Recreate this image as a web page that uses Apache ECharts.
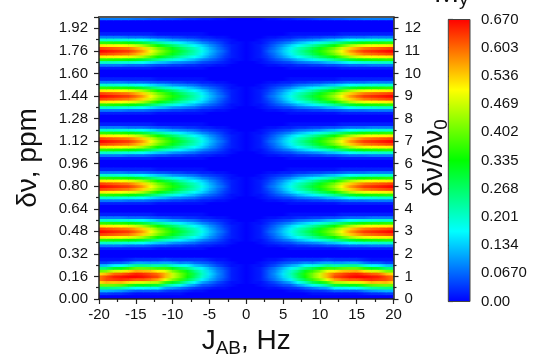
<!DOCTYPE html>
<html><head><meta charset="utf-8">
<script src="https://cdn.jsdelivr.net/npm/echarts@6/dist/echarts.min.js"></script>
<style>html,body{margin:0;padding:0;background:#fff}#c{width:537px;height:357px}</style>
</head><body><div id="c"></div>
<script>
const FONT = 'Liberation Sans, Arial, sans-serif';
// x columns (J_AB, Hz)
const jAB = [-20,-19,-18,-17,-16,-15,-14,-13,-12,-11,-10,-9,-8,-7,-6,-5,-4,-3,-2,-1,0,1,2,3,4,5,6,7,8,9,10,11,12,13,14,15,16,17,18,19,20];
// tick labels
const jTickLabels = ['-20','-15','-10','-5','0','5','10','15','20'];
const ppmTickLabels = ['0.00','0.16','0.32','0.48','0.64','0.80','0.96','1.12','1.28','1.44','1.60','1.76','1.92'];
const ratioTickLabels = ['0','1','2','3','4','5','6','7','8','9','10','11','12'];
const myTickLabels = ['0.00','0.0670','0.134','0.201','0.268','0.335','0.402','0.469','0.536','0.603','0.670'];
const myMax = 0.67;
const palette = ['#0000ff','#00ffff','#00ff00','#ffff00','#ff0000'];
// band centres (ppm) and row offsets (ppm) of each band's rows
const bandCentres = [0.16, 0.48, 0.80, 1.12, 1.44, 1.76];
const rowOffsets = [-0.12,-0.10,-0.08,-0.06,-0.04,-0.02,0,0.02,0.04,0.06,0.08,0.10,0.12];
// M_y values, rows = rowOffsets, columns = jAB
const band1 = [
[.04,.04,.03,.03,.02,.01,.01,.01,.01,.01,.01,.01,0,0,0,0,0,0,0,0,0,0,0,0,0,0,0,0,0,.01,.01,.01,.01,.01,.01,.01,.02,.03,.03,.04,.04],
[.12,.12,.11,.10,.08,.06,.06,.06,.06,.04,.03,.03,.02,.01,.01,0,0,0,0,0,0,0,0,0,0,0,.01,.01,.02,.03,.03,.04,.06,.06,.06,.06,.08,.10,.11,.12,.12],
[.25,.25,.24,.23,.20,.17,.17,.16,.16,.11,.10,.08,.06,.04,.03,.02,.01,.01,0,0,0,0,0,.01,.01,.02,.03,.04,.06,.08,.10,.11,.16,.16,.17,.17,.20,.23,.24,.25,.25],
[.40,.41,.40,.39,.36,.32,.32,.31,.30,.24,.20,.18,.13,.10,.06,.05,.03,.02,.01,0,0,0,.01,.02,.03,.05,.06,.10,.13,.18,.20,.24,.30,.31,.32,.32,.36,.39,.40,.41,.40],
[.52,.55,.54,.55,.52,.48,.48,.46,.45,.37,.32,.28,.21,.17,.11,.08,.05,.03,.01,.01,0,.01,.01,.03,.05,.08,.11,.17,.21,.28,.32,.37,.45,.46,.48,.48,.52,.55,.54,.55,.52],
[.59,.62,.63,.64,.63,.61,.61,.59,.56,.49,.42,.37,.29,.23,.16,.12,.08,.05,.02,.01,0,.01,.02,.05,.08,.12,.16,.23,.29,.37,.42,.49,.56,.59,.61,.61,.63,.64,.63,.62,.59],
[.59,.62,.65,.66,.67,.67,.66,.64,.62,.55,.47,.41,.34,.27,.20,.14,.09,.06,.02,.01,0,.01,.02,.06,.09,.14,.20,.27,.34,.41,.47,.55,.62,.64,.66,.67,.67,.66,.65,.62,.59],
[.52,.55,.60,.61,.63,.65,.64,.62,.60,.55,.47,.41,.35,.28,.21,.15,.10,.06,.02,.01,0,.01,.02,.06,.10,.15,.21,.28,.35,.41,.47,.55,.60,.62,.64,.65,.63,.61,.60,.55,.52],
[.40,.42,.47,.48,.52,.56,.55,.54,.51,.49,.42,.37,.32,.25,.20,.14,.09,.06,.02,.01,0,.01,.02,.06,.09,.14,.20,.25,.32,.37,.42,.49,.51,.54,.55,.56,.52,.48,.47,.42,.40],
[.25,.26,.31,.32,.36,.40,.40,.39,.37,.37,.32,.28,.25,.20,.16,.12,.08,.05,.02,.01,0,.01,.02,.05,.08,.12,.16,.20,.25,.28,.32,.37,.37,.39,.40,.40,.36,.32,.31,.26,.25],
[.12,.13,.16,.17,.20,.24,.24,.23,.22,.24,.20,.18,.17,.13,.11,.08,.05,.03,.01,.01,0,.01,.01,.03,.05,.08,.11,.13,.17,.18,.20,.24,.22,.23,.24,.24,.20,.17,.16,.13,.12],
[.04,.04,.06,.06,.08,.11,.11,.10,.10,.11,.10,.08,.09,.07,.06,.05,.03,.02,.01,0,0,0,.01,.02,.03,.05,.06,.07,.09,.08,.10,.11,.10,.10,.11,.11,.08,.06,.06,.04,.04],
[.01,.01,.01,.01,.02,.03,.03,.03,.03,.04,.03,.03,.03,.03,.03,.02,.01,.01,0,0,0,0,0,.01,.01,.02,.03,.03,.03,.03,.03,.04,.03,.03,.03,.03,.02,.01,.01,.01,.01]
];
const band2 = [
[.02,.02,.02,.02,.02,.02,.02,.02,.01,.01,.01,.01,.01,.01,.01,0,0,0,0,0,0,0,0,0,0,0,.01,.01,.01,.01,.01,.01,.01,.02,.02,.02,.02,.02,.02,.02,.02],
[.08,.08,.08,.08,.07,.07,.07,.06,.05,.05,.04,.04,.03,.03,.02,.02,.01,.01,0,0,0,0,0,.01,.01,.02,.02,.03,.03,.04,.04,.05,.05,.06,.07,.07,.07,.08,.08,.08,.08],
[.20,.20,.20,.19,.19,.18,.17,.15,.13,.12,.10,.09,.08,.07,.05,.04,.03,.02,.01,0,0,0,.01,.02,.03,.04,.05,.07,.08,.09,.10,.12,.13,.15,.17,.18,.19,.19,.20,.20,.20],
[.36,.36,.35,.35,.34,.32,.30,.27,.24,.21,.19,.16,.14,.12,.09,.07,.05,.03,.01,.01,0,.01,.01,.03,.05,.07,.09,.12,.14,.16,.19,.21,.24,.27,.30,.32,.34,.35,.35,.36,.36],
[.52,.51,.51,.50,.49,.47,.44,.39,.34,.30,.27,.23,.20,.17,.14,.10,.07,.04,.02,.01,0,.01,.02,.04,.07,.10,.14,.17,.20,.23,.27,.30,.34,.39,.44,.47,.49,.50,.51,.51,.52],
[.63,.62,.61,.60,.59,.56,.53,.47,.41,.37,.32,.28,.24,.21,.16,.12,.08,.05,.02,.01,0,.01,.02,.05,.08,.12,.16,.21,.24,.28,.32,.37,.41,.47,.53,.56,.59,.60,.61,.62,.63],
[.67,.66,.65,.64,.63,.60,.56,.50,.44,.39,.35,.30,.26,.22,.18,.13,.09,.06,.02,.01,0,.01,.02,.06,.09,.13,.18,.22,.26,.30,.35,.39,.44,.50,.56,.60,.63,.64,.65,.66,.67],
[.63,.62,.61,.60,.59,.56,.53,.47,.41,.37,.32,.28,.24,.21,.16,.12,.08,.05,.02,.01,0,.01,.02,.05,.08,.12,.16,.21,.24,.28,.32,.37,.41,.47,.53,.56,.59,.60,.61,.62,.63],
[.52,.51,.51,.50,.49,.47,.44,.39,.34,.30,.27,.23,.20,.17,.14,.10,.07,.04,.02,.01,0,.01,.02,.04,.07,.10,.14,.17,.20,.23,.27,.30,.34,.39,.44,.47,.49,.50,.51,.51,.52],
[.36,.36,.35,.35,.34,.32,.30,.27,.24,.21,.19,.16,.14,.12,.09,.07,.05,.03,.01,.01,0,.01,.01,.03,.05,.07,.09,.12,.14,.16,.19,.21,.24,.27,.30,.32,.34,.35,.35,.36,.36],
[.20,.20,.20,.19,.19,.18,.17,.15,.13,.12,.10,.09,.08,.07,.05,.04,.03,.02,.01,0,0,0,.01,.02,.03,.04,.05,.07,.08,.09,.10,.12,.13,.15,.17,.18,.19,.19,.20,.20,.20],
[.08,.08,.08,.08,.07,.07,.07,.06,.05,.05,.04,.04,.03,.03,.02,.02,.01,.01,0,0,0,0,0,.01,.01,.02,.02,.03,.03,.04,.04,.05,.05,.06,.07,.07,.07,.08,.08,.08,.08],
[.02,.02,.02,.02,.02,.02,.02,.02,.01,.01,.01,.01,.01,.01,.01,0,0,0,0,0,0,0,0,0,0,0,.01,.01,.01,.01,.01,.01,.01,.02,.02,.02,.02,.02,.02,.02,.02]
];
const band3 = [
[.02,.02,.02,.02,.02,.02,.02,.02,.01,.01,.01,.01,.01,.01,.01,0,0,0,0,0,0,0,0,0,0,0,.01,.01,.01,.01,.01,.01,.01,.02,.02,.02,.02,.02,.02,.02,.02],
[.08,.08,.08,.08,.07,.07,.07,.06,.05,.05,.04,.04,.03,.03,.02,.02,.01,.01,0,0,0,0,0,.01,.01,.02,.02,.03,.03,.04,.04,.05,.05,.06,.07,.07,.07,.08,.08,.08,.08],
[.20,.20,.20,.19,.19,.18,.17,.15,.13,.12,.10,.09,.08,.07,.05,.04,.03,.02,.01,0,0,0,.01,.02,.03,.04,.05,.07,.08,.09,.10,.12,.13,.15,.17,.18,.19,.19,.20,.20,.20],
[.36,.36,.35,.35,.34,.32,.30,.27,.24,.21,.19,.16,.14,.12,.09,.07,.05,.03,.01,.01,0,.01,.01,.03,.05,.07,.09,.12,.14,.16,.19,.21,.24,.27,.30,.32,.34,.35,.35,.36,.36],
[.52,.51,.51,.50,.49,.47,.44,.39,.34,.30,.27,.23,.20,.17,.14,.10,.07,.04,.02,.01,0,.01,.02,.04,.07,.10,.14,.17,.20,.23,.27,.30,.34,.39,.44,.47,.49,.50,.51,.51,.52],
[.63,.62,.61,.60,.59,.56,.53,.47,.41,.37,.32,.28,.24,.21,.16,.12,.08,.05,.02,.01,0,.01,.02,.05,.08,.12,.16,.21,.24,.28,.32,.37,.41,.47,.53,.56,.59,.60,.61,.62,.63],
[.67,.66,.65,.64,.63,.60,.56,.50,.44,.39,.35,.30,.26,.22,.18,.13,.09,.06,.02,.01,0,.01,.02,.06,.09,.13,.18,.22,.26,.30,.35,.39,.44,.50,.56,.60,.63,.64,.65,.66,.67],
[.63,.62,.61,.60,.59,.56,.53,.47,.41,.37,.32,.28,.24,.21,.16,.12,.08,.05,.02,.01,0,.01,.02,.05,.08,.12,.16,.21,.24,.28,.32,.37,.41,.47,.53,.56,.59,.60,.61,.62,.63],
[.52,.51,.51,.50,.49,.47,.44,.39,.34,.30,.27,.23,.20,.17,.14,.10,.07,.04,.02,.01,0,.01,.02,.04,.07,.10,.14,.17,.20,.23,.27,.30,.34,.39,.44,.47,.49,.50,.51,.51,.52],
[.36,.36,.35,.35,.34,.32,.30,.27,.24,.21,.19,.16,.14,.12,.09,.07,.05,.03,.01,.01,0,.01,.01,.03,.05,.07,.09,.12,.14,.16,.19,.21,.24,.27,.30,.32,.34,.35,.35,.36,.36],
[.20,.20,.20,.19,.19,.18,.17,.15,.13,.12,.10,.09,.08,.07,.05,.04,.03,.02,.01,0,0,0,.01,.02,.03,.04,.05,.07,.08,.09,.10,.12,.13,.15,.17,.18,.19,.19,.20,.20,.20],
[.08,.08,.08,.08,.07,.07,.07,.06,.05,.05,.04,.04,.03,.03,.02,.02,.01,.01,0,0,0,0,0,.01,.01,.02,.02,.03,.03,.04,.04,.05,.05,.06,.07,.07,.07,.08,.08,.08,.08],
[.02,.02,.02,.02,.02,.02,.02,.02,.01,.01,.01,.01,.01,.01,.01,0,0,0,0,0,0,0,0,0,0,0,.01,.01,.01,.01,.01,.01,.01,.02,.02,.02,.02,.02,.02,.02,.02]
];
const band4 = [
[.02,.02,.02,.02,.02,.02,.02,.02,.01,.01,.01,.01,.01,.01,.01,0,0,0,0,0,0,0,0,0,0,0,.01,.01,.01,.01,.01,.01,.01,.02,.02,.02,.02,.02,.02,.02,.02],
[.08,.08,.08,.08,.07,.07,.07,.06,.05,.05,.04,.04,.03,.03,.02,.02,.01,.01,0,0,0,0,0,.01,.01,.02,.02,.03,.03,.04,.04,.05,.05,.06,.07,.07,.07,.08,.08,.08,.08],
[.20,.20,.20,.19,.19,.18,.17,.15,.13,.12,.10,.09,.08,.07,.05,.04,.03,.02,.01,0,0,0,.01,.02,.03,.04,.05,.07,.08,.09,.10,.12,.13,.15,.17,.18,.19,.19,.20,.20,.20],
[.36,.36,.35,.35,.34,.32,.30,.27,.24,.21,.19,.16,.14,.12,.09,.07,.05,.03,.01,.01,0,.01,.01,.03,.05,.07,.09,.12,.14,.16,.19,.21,.24,.27,.30,.32,.34,.35,.35,.36,.36],
[.52,.51,.51,.50,.49,.47,.44,.39,.34,.30,.27,.23,.20,.17,.14,.10,.07,.04,.02,.01,0,.01,.02,.04,.07,.10,.14,.17,.20,.23,.27,.30,.34,.39,.44,.47,.49,.50,.51,.51,.52],
[.63,.62,.61,.60,.59,.56,.53,.47,.41,.37,.32,.28,.24,.21,.16,.12,.08,.05,.02,.01,0,.01,.02,.05,.08,.12,.16,.21,.24,.28,.32,.37,.41,.47,.53,.56,.59,.60,.61,.62,.63],
[.67,.66,.65,.64,.63,.60,.56,.50,.44,.39,.35,.30,.26,.22,.18,.13,.09,.06,.02,.01,0,.01,.02,.06,.09,.13,.18,.22,.26,.30,.35,.39,.44,.50,.56,.60,.63,.64,.65,.66,.67],
[.63,.62,.61,.60,.59,.56,.53,.47,.41,.37,.32,.28,.24,.21,.16,.12,.08,.05,.02,.01,0,.01,.02,.05,.08,.12,.16,.21,.24,.28,.32,.37,.41,.47,.53,.56,.59,.60,.61,.62,.63],
[.52,.51,.51,.50,.49,.47,.44,.39,.34,.30,.27,.23,.20,.17,.14,.10,.07,.04,.02,.01,0,.01,.02,.04,.07,.10,.14,.17,.20,.23,.27,.30,.34,.39,.44,.47,.49,.50,.51,.51,.52],
[.36,.36,.35,.35,.34,.32,.30,.27,.24,.21,.19,.16,.14,.12,.09,.07,.05,.03,.01,.01,0,.01,.01,.03,.05,.07,.09,.12,.14,.16,.19,.21,.24,.27,.30,.32,.34,.35,.35,.36,.36],
[.20,.20,.20,.19,.19,.18,.17,.15,.13,.12,.10,.09,.08,.07,.05,.04,.03,.02,.01,0,0,0,.01,.02,.03,.04,.05,.07,.08,.09,.10,.12,.13,.15,.17,.18,.19,.19,.20,.20,.20],
[.08,.08,.08,.08,.07,.07,.07,.06,.05,.05,.04,.04,.03,.03,.02,.02,.01,.01,0,0,0,0,0,.01,.01,.02,.02,.03,.03,.04,.04,.05,.05,.06,.07,.07,.07,.08,.08,.08,.08],
[.02,.02,.02,.02,.02,.02,.02,.02,.01,.01,.01,.01,.01,.01,.01,0,0,0,0,0,0,0,0,0,0,0,.01,.01,.01,.01,.01,.01,.01,.02,.02,.02,.02,.02,.02,.02,.02]
];
const band5 = [
[.02,.02,.02,.02,.02,.02,.02,.02,.01,.01,.01,.01,.01,.01,.01,0,0,0,0,0,0,0,0,0,0,0,.01,.01,.01,.01,.01,.01,.01,.02,.02,.02,.02,.02,.02,.02,.02],
[.08,.08,.08,.08,.07,.07,.07,.06,.05,.05,.04,.04,.03,.03,.02,.02,.01,.01,0,0,0,0,0,.01,.01,.02,.02,.03,.03,.04,.04,.05,.05,.06,.07,.07,.07,.08,.08,.08,.08],
[.20,.20,.20,.19,.19,.18,.17,.15,.13,.12,.10,.09,.08,.07,.05,.04,.03,.02,.01,0,0,0,.01,.02,.03,.04,.05,.07,.08,.09,.10,.12,.13,.15,.17,.18,.19,.19,.20,.20,.20],
[.36,.36,.35,.35,.34,.32,.30,.27,.24,.21,.19,.16,.14,.12,.09,.07,.05,.03,.01,.01,0,.01,.01,.03,.05,.07,.09,.12,.14,.16,.19,.21,.24,.27,.30,.32,.34,.35,.35,.36,.36],
[.52,.51,.51,.50,.49,.47,.44,.39,.34,.30,.27,.23,.20,.17,.14,.10,.07,.04,.02,.01,0,.01,.02,.04,.07,.10,.14,.17,.20,.23,.27,.30,.34,.39,.44,.47,.49,.50,.51,.51,.52],
[.63,.62,.61,.60,.59,.56,.53,.47,.41,.37,.32,.28,.24,.21,.16,.12,.08,.05,.02,.01,0,.01,.02,.05,.08,.12,.16,.21,.24,.28,.32,.37,.41,.47,.53,.56,.59,.60,.61,.62,.63],
[.67,.66,.65,.64,.63,.60,.56,.50,.44,.39,.35,.30,.26,.22,.18,.13,.09,.06,.02,.01,0,.01,.02,.06,.09,.13,.18,.22,.26,.30,.35,.39,.44,.50,.56,.60,.63,.64,.65,.66,.67],
[.63,.62,.61,.60,.59,.56,.53,.47,.41,.37,.32,.28,.24,.21,.16,.12,.08,.05,.02,.01,0,.01,.02,.05,.08,.12,.16,.21,.24,.28,.32,.37,.41,.47,.53,.56,.59,.60,.61,.62,.63],
[.52,.51,.51,.50,.49,.47,.44,.39,.34,.30,.27,.23,.20,.17,.14,.10,.07,.04,.02,.01,0,.01,.02,.04,.07,.10,.14,.17,.20,.23,.27,.30,.34,.39,.44,.47,.49,.50,.51,.51,.52],
[.36,.36,.35,.35,.34,.32,.30,.27,.24,.21,.19,.16,.14,.12,.09,.07,.05,.03,.01,.01,0,.01,.01,.03,.05,.07,.09,.12,.14,.16,.19,.21,.24,.27,.30,.32,.34,.35,.35,.36,.36],
[.20,.20,.20,.19,.19,.18,.17,.15,.13,.12,.10,.09,.08,.07,.05,.04,.03,.02,.01,0,0,0,.01,.02,.03,.04,.05,.07,.08,.09,.10,.12,.13,.15,.17,.18,.19,.19,.20,.20,.20],
[.08,.08,.08,.08,.07,.07,.07,.06,.05,.05,.04,.04,.03,.03,.02,.02,.01,.01,0,0,0,0,0,.01,.01,.02,.02,.03,.03,.04,.04,.05,.05,.06,.07,.07,.07,.08,.08,.08,.08],
[.02,.02,.02,.02,.02,.02,.02,.02,.01,.01,.01,.01,.01,.01,.01,0,0,0,0,0,0,0,0,0,0,0,.01,.01,.01,.01,.01,.01,.01,.02,.02,.02,.02,.02,.02,.02,.02]
];
const band6 = [
[.02,.02,.02,.02,.02,.02,.02,.02,.01,.01,.01,.01,.01,.01,.01,0,0,0,0,0,0,0,0,0,0,0,.01,.01,.01,.01,.01,.01,.01,.02,.02,.02,.02,.02,.02,.02,.02],
[.08,.08,.08,.08,.07,.07,.07,.06,.05,.05,.04,.04,.03,.03,.02,.02,.01,.01,0,0,0,0,0,.01,.01,.02,.02,.03,.03,.04,.04,.05,.05,.06,.07,.07,.07,.08,.08,.08,.08],
[.20,.20,.20,.19,.19,.18,.17,.15,.13,.12,.10,.09,.08,.07,.05,.04,.03,.02,.01,0,0,0,.01,.02,.03,.04,.05,.07,.08,.09,.10,.12,.13,.15,.17,.18,.19,.19,.20,.20,.20],
[.36,.36,.35,.35,.34,.32,.30,.27,.24,.21,.19,.16,.14,.12,.09,.07,.05,.03,.01,.01,0,.01,.01,.03,.05,.07,.09,.12,.14,.16,.19,.21,.24,.27,.30,.32,.34,.35,.35,.36,.36],
[.52,.51,.51,.50,.49,.47,.44,.39,.34,.30,.27,.23,.20,.17,.14,.10,.07,.04,.02,.01,0,.01,.02,.04,.07,.10,.14,.17,.20,.23,.27,.30,.34,.39,.44,.47,.49,.50,.51,.51,.52],
[.63,.62,.61,.60,.59,.56,.53,.47,.41,.37,.32,.28,.24,.21,.16,.12,.08,.05,.02,.01,0,.01,.02,.05,.08,.12,.16,.21,.24,.28,.32,.37,.41,.47,.53,.56,.59,.60,.61,.62,.63],
[.67,.66,.65,.64,.63,.60,.56,.50,.44,.39,.35,.30,.26,.22,.18,.13,.09,.06,.02,.01,0,.01,.02,.06,.09,.13,.18,.22,.26,.30,.35,.39,.44,.50,.56,.60,.63,.64,.65,.66,.67],
[.63,.62,.61,.60,.59,.56,.53,.47,.41,.37,.32,.28,.24,.21,.16,.12,.08,.05,.02,.01,0,.01,.02,.05,.08,.12,.16,.21,.24,.28,.32,.37,.41,.47,.53,.56,.59,.60,.61,.62,.63],
[.52,.51,.51,.50,.49,.47,.44,.39,.34,.30,.27,.23,.20,.17,.14,.10,.07,.04,.02,.01,0,.01,.02,.04,.07,.10,.14,.17,.20,.23,.27,.30,.34,.39,.44,.47,.49,.50,.51,.51,.52],
[.36,.36,.35,.35,.34,.32,.30,.27,.24,.21,.19,.16,.14,.12,.09,.07,.05,.03,.01,.01,0,.01,.01,.03,.05,.07,.09,.12,.14,.16,.19,.21,.24,.27,.30,.32,.34,.35,.35,.36,.36],
[.20,.20,.20,.19,.19,.18,.17,.15,.13,.12,.10,.09,.08,.07,.05,.04,.03,.02,.01,0,0,0,.01,.02,.03,.04,.05,.07,.08,.09,.10,.12,.13,.15,.17,.18,.19,.19,.20,.20,.20],
[.08,.08,.08,.08,.07,.07,.07,.06,.05,.05,.04,.04,.03,.03,.02,.02,.01,.01,0,0,0,0,0,.01,.01,.02,.02,.03,.03,.04,.04,.05,.05,.06,.07,.07,.07,.08,.08,.08,.08],
[.02,.02,.02,.02,.02,.02,.02,.02,.01,.01,.01,.01,.01,.01,.01,0,0,0,0,0,0,0,0,0,0,0,.01,.01,.01,.01,.01,.01,.01,.02,.02,.02,.02,.02,.02,.02,.02]
];
// faint tail just under the top edge
const edgeRowPpm = 1.99;
const edgeRow = [.08,.08,.08,.08,.08,.07,.07,.06,.06,.05,.05,.04,.03,.03,.02,.02,.01,.01,0,0,0,0,0,.01,.01,.02,.02,.03,.03,.04,.05,.05,.06,.06,.07,.07,.08,.08,.08,.08,.08];

const PPM_HALF = 0.01;
const J_LAST = jAB[jAB.length - 1];
const bands = [band1, band2, band3, band4, band5, band6];
const cells = [];
bands.forEach((band, b) => band.forEach((row, r) => row.forEach((v, c) => {
  cells.push([jAB[c], +(bandCentres[b] + rowOffsets[r]).toFixed(3), v]);
})));
edgeRow.forEach((v, c) => cells.push([jAB[c], edgeRowPpm, v]));

// each sample is shaded towards its right-hand neighbour in the same row
function renderCell(params, api) {
  const j = api.value(0), p = api.value(1);
  if (j >= J_LAST) return null;
  const idx = params.dataIndexInside;
  const jNext = api.value(0, idx + 1);
  const a = api.coord([j, p + PPM_HALF]);
  const b = api.coord([jNext, p - PPM_HALF]);
  const cs = params.coordSys;
  const shape = echarts.graphic.clipRectByRect(
    {x: a[0] - 0.3, y: a[1] - 0.4, width: b[0] - a[0] + 0.6, height: b[1] - a[1] + 0.8},
    {x: cs.x, y: cs.y, width: cs.width, height: cs.height});
  if (!shape) return null;
  const c0 = api.visual('color');
  const c1 = api.visual('color', idx + 1) || c0;
  return {type: 'rect', shape: shape,
    style: {fill: new echarts.graphic.LinearGradient(0, 0, 1, 0, [{offset: 0, color: c0}, {offset: 1, color: c1}])}};
}
function renderColorbar(params, api) {
  const p1 = api.coord([0, api.value(1)]);
  const p2 = api.coord([1, 0]);
  const stops = palette.slice().reverse().map((c, i, arr) => ({offset: i / (arr.length - 1), color: c}));
  return {type: 'rect', shape: {x: p1[0], y: p1[1], width: p2[0] - p1[0], height: p2[1] - p1[1]},
    style: {fill: new echarts.graphic.LinearGradient(0, 0, 0, 1, stops), stroke: '#444', lineWidth: 1}};
}

const AX = '#222';
const tickStyle = {color: AX, width: 1.2};
const labelStyle = {color: '#111', fontSize: 15, fontFamily: FONT};
const nameFont = 28, subFont = 19;

const chart = echarts.init(document.getElementById('c'), null, {renderer: 'canvas'});
chart.setOption({
  animation: false,
  backgroundColor: '#fff',
  grid: [
    {left: 99, top: 17, width: 294.5, height: 282, show: true, backgroundColor: palette[0], borderWidth: 0,
     containLabel: false, outerBoundsMode: 'none'},
    {left: 448.3, top: 19.5, width: 21.7, height: 282, containLabel: false, outerBoundsMode: 'none'}
  ],
  visualMap: {type: 'continuous', show: false, min: 0, max: myMax, dimension: 2, seriesIndex: 0, inRange: {color: palette}},
  xAxis: [
    {gridIndex: 0, type: 'value', min: -20, max: 20, interval: 5, position: 'bottom', z: 5,
     axisLine: {show: true, onZero: false, lineStyle: {color: AX, width: 1.5}},
     axisTick: {show: true, length: 5, lineStyle: tickStyle},
     minorTick: {show: true, splitNumber: 2, length: 3, lineStyle: tickStyle},
     splitLine: {show: false},
     axisLabel: Object.assign({margin: 8, formatter: (v, i) => jTickLabels[i] ?? ''}, labelStyle),
     name: '{a|J}{b|AB}{a|, Hz}', nameLocation: 'middle', nameGap: 25, nameMoveOverlap: false,
     nameTextStyle: {rich: {
       a: {fontSize: nameFont, fontFamily: FONT, color: '#111', lineHeight: 34},
       b: {fontSize: subFont, fontFamily: FONT, color: '#111', lineHeight: 19, verticalAlign: 'bottom'}}}},
    {gridIndex: 0, type: 'value', min: -20, max: 20, position: 'top', z: 5,
     axisLine: {show: true, onZero: false, lineStyle: {color: '#555', width: 2}},
     axisTick: {show: false}, axisLabel: {show: false}, splitLine: {show: false}},
    {gridIndex: 1, type: 'value', min: 0, max: 1, show: false}
  ],
  yAxis: [
    {gridIndex: 0, type: 'value', min: 0, max: 2, interval: 0.16, position: 'left', z: 5,
     axisLine: {show: true, onZero: false, lineStyle: {color: AX, width: 1.5}},
     axisTick: {show: true, length: 5, lineStyle: tickStyle},
     minorTick: {show: true, splitNumber: 2, length: 3, lineStyle: tickStyle},
     splitLine: {show: false},
     axisLabel: Object.assign({margin: 11, formatter: (v, i) => ppmTickLabels[i] ?? ''}, labelStyle),
     name: 'δν, ppm', nameLocation: 'middle', nameRotate: 90, nameGap: 57, nameMoveOverlap: false,
     nameTextStyle: {fontSize: nameFont, fontFamily: FONT, color: '#111'}},
    {gridIndex: 0, type: 'value', min: 0, max: 12.5, interval: 1, position: 'right', z: 5,
     axisLine: {show: true, onZero: false, lineStyle: {color: AX, width: 1.5}},
     axisTick: {show: true, length: 5, lineStyle: tickStyle},
     minorTick: {show: true, splitNumber: 2, length: 3, lineStyle: tickStyle},
     splitLine: {show: false},
     axisLabel: Object.assign({margin: 11, formatter: (v, i) => ratioTickLabels[i] ?? ''}, labelStyle),
     name: '{a|δν/δν}{s|0}', nameLocation: 'middle', nameRotate: 90, nameGap: 24, nameMoveOverlap: false,
     nameTextStyle: {rich: {
       a: {fontSize: nameFont, fontFamily: FONT, color: '#111', lineHeight: 34},
       s: {fontSize: subFont, fontFamily: FONT, color: '#111', lineHeight: 19, verticalAlign: 'bottom'}}}},
    {gridIndex: 1, type: 'value', min: 0, max: myMax, interval: 0.067, position: 'right',
     axisLine: {show: false},
     axisTick: {show: true, length: 5, lineStyle: tickStyle},
     splitLine: {show: false},
     axisLabel: Object.assign({margin: 11, formatter: (v, i) => myTickLabels[i] ?? ''}, labelStyle)}
  ],
  graphic: [{type: 'text', left: 434, top: -21.5, z: 10,
    style: {text: '{m|M}{s|y}', rich: {
      m: {fontSize: 30, fontFamily: FONT, fill: '#111', lineHeight: 32},
      s: {fontSize: subFont, fontFamily: FONT, fill: '#111', lineHeight: 19, verticalAlign: 'bottom'}}}}],
  series: [
    {type: 'custom', xAxisIndex: 0, yAxisIndex: 0, renderItem: renderCell, data: cells,
     encode: {x: 0, y: 1}, silent: true, z: 2, progressive: 0},
    {type: 'custom', xAxisIndex: 2, yAxisIndex: 2, renderItem: renderColorbar, data: [[0, myMax]],
     encode: {x: 0, y: 1}, silent: true, z: 2}
  ]
});
</script></body></html>
